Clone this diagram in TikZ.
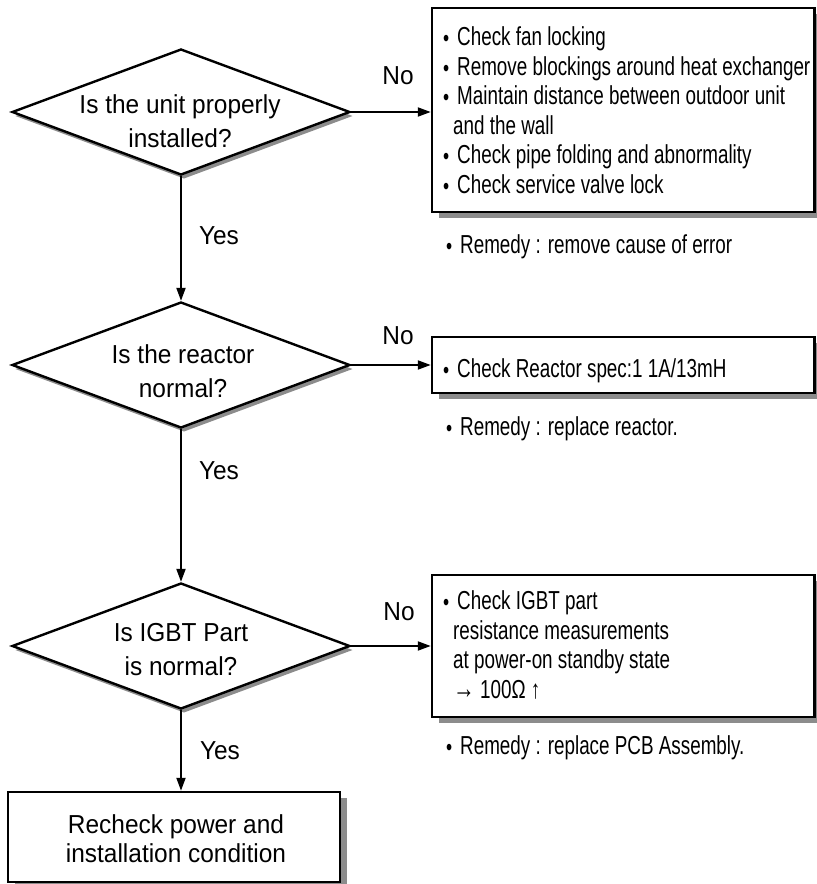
\documentclass[tikz,border=0pt]{standalone}
\usepackage{fontspec}
\setmainfont{Liberation Sans}[FakeStretch=0.94]
\newfontfamily\condfont{Liberation Sans}[FakeStretch=0.725]
\usetikzlibrary{shapes.geometric,shadows,arrows.meta}
\newcommand{\bul}{\makebox[14pt][l]{\fontsize{24}{24}\selectfont\raisebox{-1pt}{•}}}
\newcommand{\cnt}{\hspace*{10pt}}
\begin{document}
\begin{tikzpicture}[x=1pt,y=-1pt,
  dec/.style={diamond, draw, line width=2.4pt, fill=white, minimum width=338pt, minimum height=126pt, inner sep=0pt,
    drop shadow={shadow xshift=3pt, shadow yshift=-4pt, fill=black!45, opacity=1}},
  box/.style={rectangle, draw, line width=2.5pt, fill=white, inner sep=0pt,
    drop shadow={shadow xshift=7pt, shadow yshift=-6pt, fill=black!45, opacity=1}},
  dtext/.style={align=center, inner sep=0pt, font=\fontsize{26}{34}\selectfont},
  btext/.style={align=left, inner sep=0pt, font=\condfont\fontsize{26}{29.5}\selectfont},
  lbl/.style={inner sep=0pt, font=\fontsize{26}{30}\selectfont},
  arr/.style={line width=2pt, -{Triangle[length=13pt,width=9pt]}},
]
\useasboundingbox (0,0) rectangle (817,884);

% decisions
\node[dec] (d1) at (181,112) {};
\node[dtext] (q1) at (180,121) {Is the unit properly\\installed?};
\node[dec] (d2) at (181,365) {};
\node[dtext] (q2) at (183,371) {Is the reactor\\normal?};
\node[dec] (d3) at (181,646) {};
\node[dtext] (q3) at (181,650) {Is IGBT Part\\is normal?};

% check boxes
\node[box, minimum width=382.5pt, minimum height=204pt] (b1) at (623.25,110) {};
\node[btext, anchor=west] (t1) at (443,110.5) {\bul Check fan locking\\\bul Remove blockings around heat exchanger\\\bul Maintain distance between outdoor unit\\\cnt and the wall\\\bul Check pipe folding and abnormality\\\bul Check service valve lock};
\node[box, minimum width=382.5pt, minimum height=56pt] (b2) at (623.25,365) {};
\node[btext, anchor=base west] (t2) at (443,377) {\bul Check Reactor spec:1 1A/13mH};
\node[box, minimum width=382.5pt, minimum height=142pt] (b3) at (623.25,646) {};
\node[btext, anchor=west] (t3) at (443,645) {\bul Check IGBT part\\\cnt resistance measurements\\\cnt at power-on standby state\\\cnt {\fontsize{30}{30}\selectfont →} 100Ω ↑};

% remedies
\node[btext, anchor=base west] (r1) at (446,253) {\bul Remedy : remove cause of error};
\node[btext, anchor=base west] (r2) at (446,435) {\bul Remedy : replace reactor.};
\node[btext, anchor=base west] (r3) at (446,754) {\bul Remedy : replace PCB Assembly.};

% final box
\node[box, minimum width=332pt, minimum height=90pt] (f) at (174,837) {};
\node[dtext, font=\fontsize{26}{29}\selectfont] (ft) at (176,838.5) {Recheck power and\\installation condition};

% connectors
\draw[arr] (d1.east) -- (d1.east -| b1.west);
\draw[arr] (d2.east) -- (d2.east -| b2.west);
\draw[arr] (d3.east) -- (d3.east -| b3.west);
\draw[arr] (d1.south) -- (d2.north);
\draw[arr] (d2.south) -- (d3.north);
\draw[arr] (d3.south) -- (d3.south |- f.north);

% labels
\node[lbl] (n1) at (398,76) {No};
\node[lbl] (n2) at (398,336) {No};
\node[lbl] (n3) at (399,612) {No};
\node[lbl] (y1) at (219,236) {Yes};
\node[lbl] (y2) at (219,471) {Yes};
\node[lbl] (y3) at (220,751) {Yes};
\end{tikzpicture}
\end{document}
